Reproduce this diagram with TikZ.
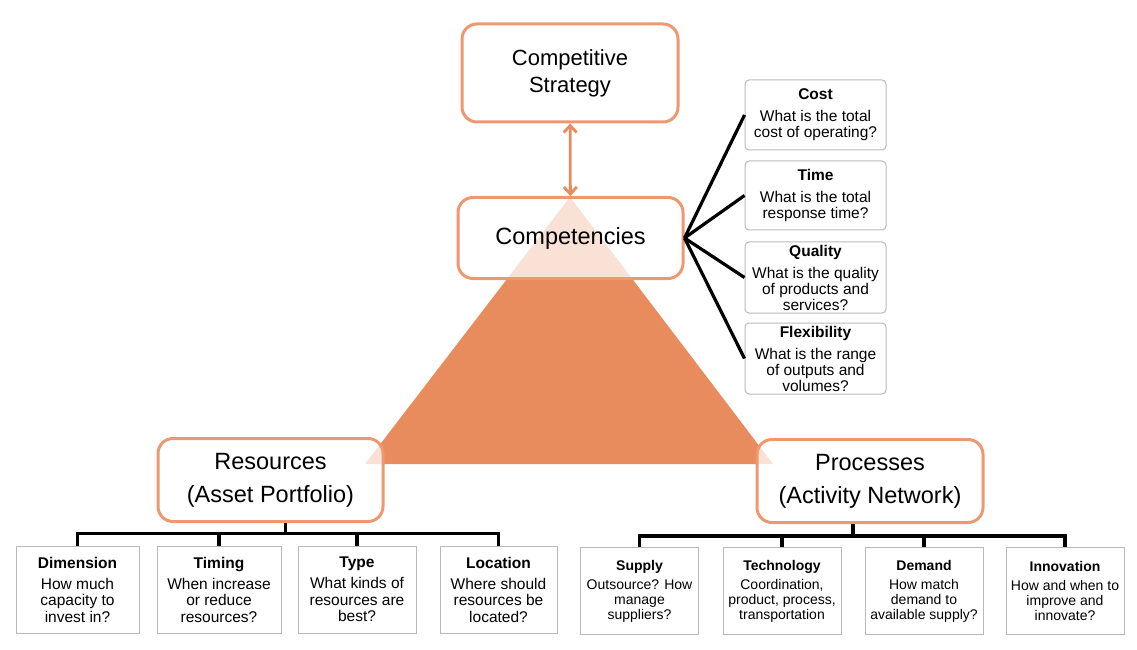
\documentclass[tikz,border=0pt]{standalone}
\usepackage{fontspec}
\setmainfont{Liberation Sans}
\usetikzlibrary{arrows.meta,positioning}

\definecolor{pyramid}{RGB}{232,139,93}
\definecolor{boxline}{RGB}{238,152,112}
\definecolor{qline}{RGB}{185,185,185}

\begin{document}
\begin{tikzpicture}[
    x=1pt, y=1pt,
    big/.style={draw=boxline, line width=3pt, rounded corners=15pt, align=center,
                fill=white, fill opacity=0.75, text opacity=1, inner sep=0pt,
                font=\fontsize{23.5}{33}\selectfont},
    side/.style={draw=qline, line width=1pt, rounded corners=4pt, align=center, fill=white,
                 inner sep=0pt, minimum width=141pt, font=\fontsize{15.5}{16}\selectfont},
    ask/.style={draw=qline, line width=1pt, align=center, fill=white, inner sep=0pt,
                minimum height=87pt, font=\fontsize{15.5}{16.5}\selectfont},
    asksm/.style={ask, minimum width=118pt, font=\fontsize{14}{15}\selectfont},
    link/.style={line width=3.2pt, black},
    tree/.style={line width=3.2pt, black},
    dbl/.style={{Straight Barb[length=7pt,width=13pt]}-{Straight Barb[length=7pt,width=13pt]},
                line width=2.8pt, draw=pyramid}
  ]
    \useasboundingbox (0,0) rectangle (1137,649);

    % pyramid behind the three main boxes
    \coordinate (apex) at (570,452);
    \coordinate (bl) at (365,185);
    \coordinate (br) at (773,185);
    \fill[pyramid] (apex) -- (bl) -- (br) -- cycle;

    \node[big, minimum width=216pt, minimum height=98pt, font=\fontsize{22}{27}\selectfont]
      (strat) at (570,576) {Competitive\\Strategy};
    \node[big, minimum width=225pt, minimum height=81pt] (comp) at (570.5,411) {Competencies};
    \node[big, minimum width=225pt, minimum height=83pt] (res) at (270.5,169) {Resources\\(Asset Portfolio)};
    \node[big, minimum width=226pt, minimum height=83pt] (proc) at (870,168) {Processes\\(Activity Network)};

    \draw[dbl] (strat) -- (comp);

    % competency questions
    \node[side, minimum height=70pt] (cost) at (815.5,534)
      {\textbf{Cost}\\[6pt]What is the total\\cost of operating?};
    \node[side, minimum height=69pt] (time) at (815.5,453.5)
      {\textbf{Time}\\[6pt]What is the total\\response time?};
    \node[side, minimum height=71pt] (qual) at (815.5,371.5)
      {\textbf{Quality}\\[6pt]What is the quality\\of products and\\services?};
    \node[side, minimum height=71pt] (flex) at (815.5,290.5)
      {\textbf{Flexibility}\\[6pt]What is the range\\of outputs and\\volumes?};
    \draw[link] (comp.east) -- (cost.west);
    \draw[link] (comp.east) -- (time.west);
    \draw[link] (comp.east) -- (qual.west);
    \draw[link] (comp.east) -- (flex.west);

    % resource decisions
    \node[ask, minimum width=123pt] (dim) at (77.5,59.5)
      {\textbf{Dimension}\\[4.5pt]How much\\capacity to\\invest in?};
    \node[ask, minimum width=124pt] (tim) at (219,59.5)
      {\textbf{Timing}\\[4.5pt]When increase\\or reduce\\resources?};
    \node[ask, minimum width=118pt] (typ) at (357,59.5)
      {\textbf{Type}\\[4.5pt]What kinds of\\resources are\\best?};
    \node[ask, minimum width=117pt] (loc) at (498.5,59.5)
      {\textbf{Location}\\[4.5pt]Where should\\resources be\\located?};
    \draw[tree] ([xshift=15pt]res.south) -- ++(0,-11.5);
    \draw[tree] (dim.north) -- ++(0,12) -| (loc.north);
    \draw[tree] (tim.north) -- ++(0,12);
    \draw[tree] (typ.north) -- ++(0,12);

    % process decisions
    \node[asksm] (sup) at (639.5,58)
      {\textbf{Supply}\\[4pt]Outsource? How\\manage\\suppliers?};
    \node[asksm] (tech) at (782,58)
      {\textbf{Technology}\\[4pt]Coordination,\\product, process,\\transportation};
    \node[asksm] (dem) at (924,58)
      {\textbf{Demand}\\[4pt]How match\\demand to\\available supply?};
    \node[asksm] (inn) at (1065,58)
      {\textbf{Innovation}\\[4pt]How and when to\\improve and\\innovate?};
    \draw[tree] ([xshift=-17pt]proc.south) -- ++(0,-12);
    \draw[tree] (sup.north) -- ++(0,11) -| (inn.north);
    \draw[tree] (tech.north) -- ++(0,11);
    \draw[tree] (dem.north) -- ++(0,11);
  \end{tikzpicture}
\end{document}
